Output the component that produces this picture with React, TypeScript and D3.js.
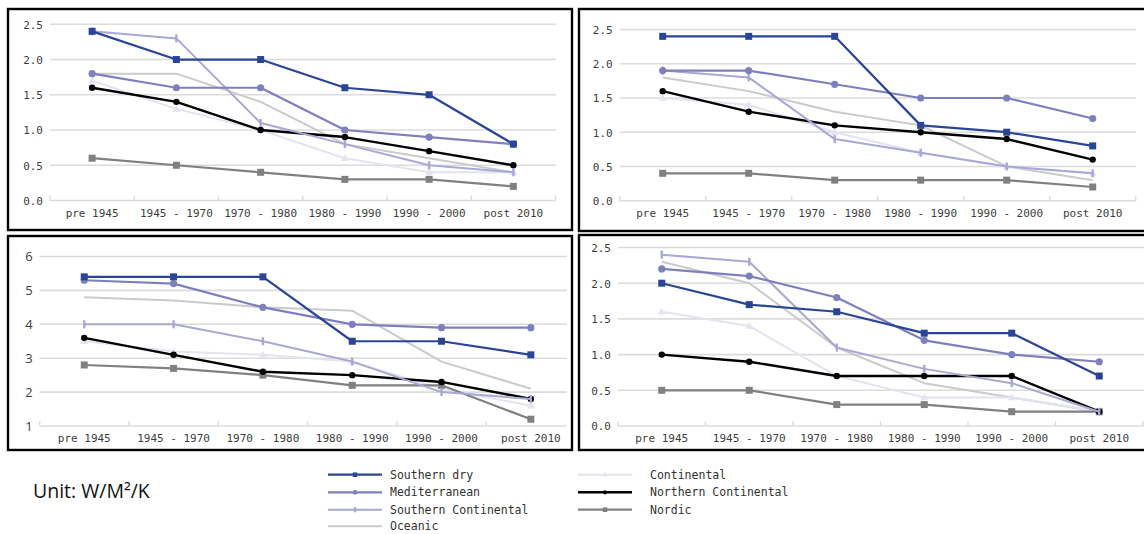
import React from "react";
import * as d3 from "d3";

// ---- data -------------------------------------------------------------
const categories = ["pre 1945", "1945 - 1970", "1970 - 1980", "1980 - 1990", "1990 - 2000", "post 2010"];

const seriesNames = [
  "Southern dry",
  "Mediterranean",
  "Southern Continental",
  "Oceanic",
  "Continental",
  "Northern Continental",
  "Nordic",
];

// one row per series, same order as seriesNames
const topLeftValues = [
  [2.4, 2.0, 2.0, 1.6, 1.5, 0.8],
  [1.8, 1.6, 1.6, 1.0, 0.9, 0.8],
  [2.4, 2.3, 1.1, 0.8, 0.5, 0.4],
  [1.8, 1.8, 1.4, 0.8, 0.6, 0.4],
  [1.7, 1.3, 1.0, 0.6, 0.4, 0.4],
  [1.6, 1.4, 1.0, 0.9, 0.7, 0.5],
  [0.6, 0.5, 0.4, 0.3, 0.3, 0.2],
];

const topRightValues = [
  [2.4, 2.4, 2.4, 1.1, 1.0, 0.8],
  [1.9, 1.9, 1.7, 1.5, 1.5, 1.2],
  [1.9, 1.8, 0.9, 0.7, 0.5, 0.4],
  [1.8, 1.6, 1.3, 1.1, 0.5, 0.3],
  [1.5, 1.4, 1.0, 0.7, 0.5, 0.4],
  [1.6, 1.3, 1.1, 1.0, 0.9, 0.6],
  [0.4, 0.4, 0.3, 0.3, 0.3, 0.2],
];

const bottomLeftValues = [
  [5.4, 5.4, 5.4, 3.5, 3.5, 3.1],
  [5.3, 5.2, 4.5, 4.0, 3.9, 3.9],
  [4.0, 4.0, 3.5, 2.9, 2.0, 1.8],
  [4.8, 4.7, 4.5, 4.4, 2.9, 2.1],
  [3.5, 3.2, 3.1, 2.9, 2.1, 1.6],
  [3.6, 3.1, 2.6, 2.5, 2.3, 1.8],
  [2.8, 2.7, 2.5, 2.2, 2.2, 1.2],
];

const bottomRightValues = [
  [2.0, 1.7, 1.6, 1.3, 1.3, 0.7],
  [2.2, 2.1, 1.8, 1.2, 1.0, 0.9],
  [2.4, 2.3, 1.1, 0.8, 0.6, 0.2],
  [2.3, 2.0, 1.1, 0.6, 0.4, 0.2],
  [1.6, 1.4, 0.7, 0.4, 0.4, 0.2],
  [1.0, 0.9, 0.7, 0.7, 0.7, 0.2],
  [0.5, 0.5, 0.3, 0.3, 0.2, 0.2],
];

const smallTicks = [0, 0.5, 1, 1.5, 2, 2.5];
const bigTicks = [1, 2, 3, 4, 5, 6];

// ---- styling ----------------------------------------------------------
const STYLES = [
  { color: "#2b4596", width: 2.2, marker: "square" },
  { color: "#7e80bd", width: 2.2, marker: "circle" },
  { color: "#a7a9d4", width: 2, marker: "bar" },
  { color: "#cacaca", width: 2, marker: "none" },
  { color: "#e3e3f1", width: 2, marker: "triangle" },
  { color: "#000000", width: 2.4, marker: "dot" },
  { color: "#808080", width: 2.2, marker: "square" },
];
// drawing order (last on top)
const DRAW_ORDER = [3, 4, 6, 5, 2, 1, 0];

const MONO = "'DejaVu Sans Mono', 'Liberation Mono', monospace";
const LABEL_COLOR = "#3d3d3d";
const GRID_COLOR = "#dcdcdc";

const PANELS = [
  {
    values: topLeftValues, box: [8, 9, 572, 230], band: [50, 555.5], gridEnd: 556,
    yRange: [200.5, 24.3], domain: [0, 2.5], ticks: smallTicks, fmt: d3.format(".1f"), sans: false,
  },
  {
    values: topRightValues, box: [579, 9, 1150, 231], band: [619.7, 1135.7], gridEnd: 1136,
    yRange: [200.7, 29.5], domain: [0, 2.5], ticks: smallTicks, fmt: d3.format(".1f"), sans: false,
  },
  {
    values: bottomLeftValues, box: [8, 236, 572, 450], band: [39.6, 575.5], gridEnd: 567,
    yRange: [426, 256.5], domain: [1, 6], ticks: bigTicks, fmt: d3.format("d"), sans: true,
  },
  {
    values: bottomRightValues, box: [579, 235, 1150, 450], band: [618, 1143], gridEnd: 1144,
    yRange: [426, 247.5], domain: [0, 2.5], ticks: smallTicks, fmt: d3.format(".1f"), sans: false,
  },
];

function Marker({ type, x, y, color, size = 1 }) {
  if (type === "square") {
    const s = 7 * size;
    return <rect x={x - s / 2} y={y - s / 2} width={s} height={s} fill={color} />;
  }
  if (type === "circle") return <circle cx={x} cy={y} r={3.6 * size} fill={color} />;
  if (type === "dot") return <circle cx={x} cy={y} r={3.2 * size} fill={color} />;
  if (type === "bar") {
    const h = 8 * size;
    return <rect x={x - 1.2} y={y - h / 2} width={2.4} height={h} fill={color} />;
  }
  if (type === "triangle") {
    const s = 4 * size;
    return <path d={`M${x},${y - s}L${x + s},${y + s * 0.7}L${x - s},${y + s * 0.7}Z`} fill={color} />;
  }
  return null;
}

function Panel({ p }) {
  const x = d3.scaleBand().domain(categories).range(p.band);
  const y = d3.scaleLinear().domain(p.domain).range(p.yRange);
  const cx = (c) => x(c) + x.bandwidth() / 2;
  const line = d3.line().x((d, i) => cx(categories[i])).y((d) => y(d));
  const [bx0, by0, bx1, by1] = p.box;
  const axisY = y(p.domain[0]);
  const boundaries = categories.map((c) => x(c)).concat([p.band[1]]).filter((v) => v <= p.gridEnd + 1);

  return (
    <g>
      <rect x={bx0} y={by0} width={bx1 - bx0} height={by1 - by0} fill="#fff" stroke="#000" strokeWidth={2.4} />
      {p.ticks.map((t) => (
        <g key={t}>
          {t !== p.domain[0] && (
            <line x1={p.band[0]} x2={p.gridEnd} y1={y(t)} y2={y(t)} stroke={GRID_COLOR} strokeWidth={1.6} />
          )}
          <text
            x={p.band[0] - 7}
            y={y(t)}
            dy={p.sans ? "0.36em" : "0.4em"}
            textAnchor="end"
            fontFamily={p.sans ? "'Open Sans', 'Noto Sans', sans-serif" : MONO}
            fontSize={p.sans ? 13 : 11}
            fill={LABEL_COLOR}
          >
            {p.fmt(t)}
          </text>
        </g>
      ))}
      <line x1={p.band[0]} x2={p.gridEnd} y1={axisY} y2={axisY} stroke={GRID_COLOR} strokeWidth={1.6} />
      {boundaries.map((b, i) => (
        <line key={i} x1={b} x2={b} y1={axisY - 5} y2={axisY} stroke={GRID_COLOR} strokeWidth={1.4} />
      ))}
      {categories.map((c) => (
        <text key={c} x={cx(c)} y={axisY + 16} textAnchor="middle" fontFamily={MONO} fontSize={11} fill={LABEL_COLOR}>
          {c}
        </text>
      ))}
      {DRAW_ORDER.map((si) => {
        const st = STYLES[si];
        const vals = p.values[si];
        return (
          <g key={si}>
            <path d={line(vals)} fill="none" stroke={st.color} strokeWidth={st.width} strokeLinejoin="round" />
            {vals.map((v, i) => (
              <Marker key={i} type={st.marker} x={cx(categories[i])} y={y(v)} color={st.color} />
            ))}
          </g>
        );
      })}
    </g>
  );
}

function Legend() {
  const rowY = [474.7, 492.3, 509.7, 526.3];
  const cols = [
    { x0: 328, x1: 382, tx: 390 },
    { x0: 578, x1: 632, tx: 650 },
  ];
  // first column: 4 entries, second column: 3
  const placement = seriesNames.map((name, i) => (i < 4 ? { col: 0, row: i } : { col: 1, row: i - 4 }));
  return (
    <g>
      {seriesNames.map((name, i) => {
        const st = STYLES[i];
        const c = cols[placement[i].col];
        const ry = rowY[placement[i].row];
        const mx = (c.x0 + c.x1) / 2;
        return (
          <g key={name}>
            <line x1={c.x0} x2={c.x1} y1={ry} y2={ry} stroke={st.color} strokeWidth={st.width} />
            <Marker type={st.marker} x={mx} y={ry} color={st.color} size={0.65} />
            <text x={c.tx} y={ry} dy="0.36em" fontFamily={MONO} fontSize={11.5} fill="#333">
              {name}
            </text>
          </g>
        );
      })}
    </g>
  );
}

export default function App() {
  return (
    <svg
      width={1144}
      height={534}
      style={{ position: "absolute", left: 0, top: 0, display: "block", background: "#fff" }}
    >
      {PANELS.map((p, i) => (
        <Panel key={i} p={p} />
      ))}
      <Legend />
      <text x={33} y={498} fontFamily="'Open Sans', 'Noto Sans', sans-serif" fontSize={19.5} fill="#111">
        Unit: W/M²/K
      </text>
    </svg>
  );
}
